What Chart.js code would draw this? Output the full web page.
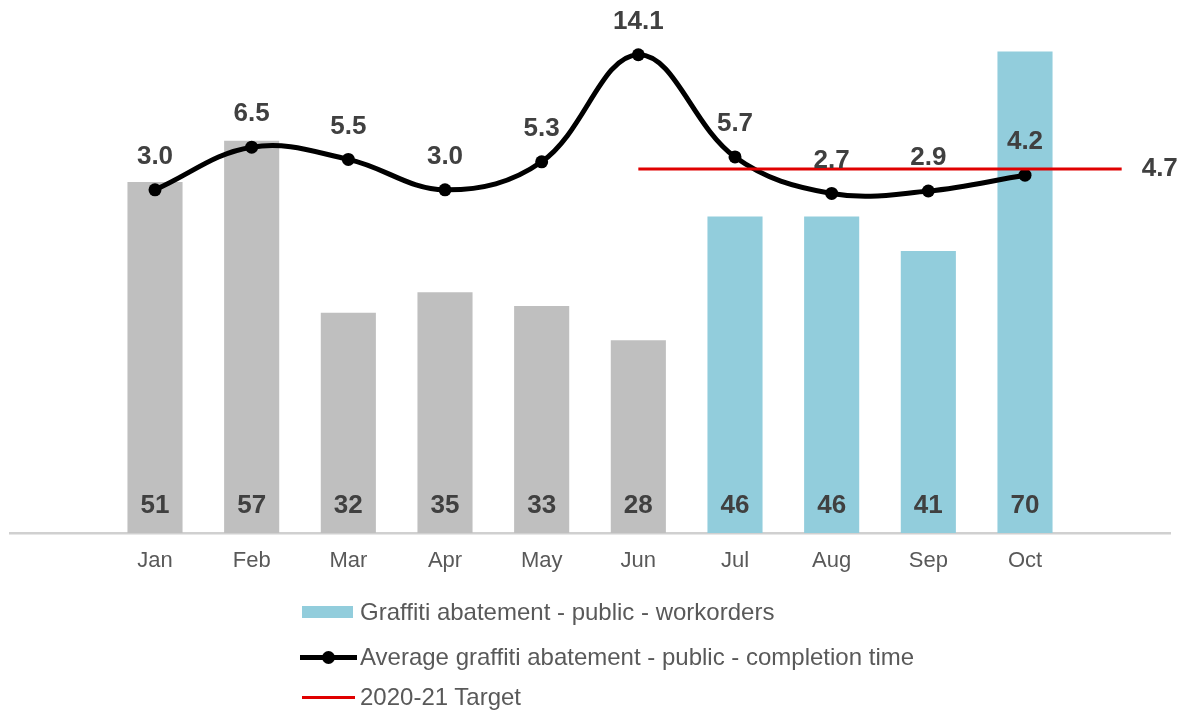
<!DOCTYPE html>
<html>
<head>
<meta charset="utf-8">
<script src="https://cdn.jsdelivr.net/npm/chart.js@4.4.1/dist/chart.umd.min.js"></script>
<style>
  body { margin: 0; background: #fff; font-family: "Liberation Sans", Arial, sans-serif; }
  #wrap { position: relative; width: 1186px; height: 711px; }
  #legend { position: absolute; left: 0; top: 0; }
  .item { position: absolute; left: 300px; height: 30px; width: 760px; color: #595959; font-size: 24px; }
  .item span.txt { position: absolute; left: 60px; top: 50%; transform: translateY(-50%); white-space: nowrap; }
  .sym { position: absolute; top: 50%; }
</style>
</head>
<body>
<div id="wrap">
  <canvas id="graffitiChart" width="1186" height="711"></canvas>
  <div id="legend">
    <div class="item" style="top:597px;">
      <div class="sym" style="left:2px;width:51px;height:12px;margin-top:-6px;background:#92cddc;"></div>
      <span class="txt">Graffiti abatement - public - workorders</span>
    </div>
    <div class="item" style="top:642px;">
      <div class="sym" style="left:0;width:57px;height:5px;margin-top:-2.5px;background:#000;"></div>
      <div class="sym" style="left:22px;width:13px;height:13px;margin-top:-6.5px;border-radius:50%;background:#000;"></div>
      <span class="txt">Average graffiti abatement - public - completion time</span>
    </div>
    <div class="item" style="top:682px;">
      <div class="sym" style="left:2px;width:53px;height:3px;margin-top:-1.5px;background:#e00000;"></div>
      <span class="txt">2020-21 Target</span>
    </div>
  </div>
</div>
<script>
// categories (blank slots at both ends, like the source sheet)
var months      = ['', 'Jan', 'Feb', 'Mar', 'Apr', 'May', 'Jun', 'Jul', 'Aug', 'Sep', 'Oct', ''];
// Graffiti abatement - public - workorders
var workorders  = [null, 51, 57, 32, 35, 33, 28, 46, 46, 41, 70, null];
// Average completion time (days)
var avgDays     = [null, 3.0, 6.5, 5.5, 3.0, 5.3, 14.1, 5.7, 2.7, 2.9, 4.2, null];
// 2020-21 target
var target      = [null, null, null, null, null, null, 4.7, 4.7, 4.7, 4.7, 4.7, 4.7];

var fontFamily = '"Liberation Sans", Arial, sans-serif';

// simple value labels (no datalabels plugin here)
var valueLabels = {
  id: 'valueLabels',
  afterDatasetsDraw: function (chart) {
    var ctx = chart.ctx;
    ctx.save();
    ctx.fillStyle = '#404040';
    ctx.font = 'bold 26px ' + fontFamily;
    ctx.textBaseline = 'middle';
    chart.data.datasets.forEach(function (ds, i) {
      var meta = chart.getDatasetMeta(i);
      meta.data.forEach(function (el, j) {
        var v = ds.data[j];
        if (v === null || v === undefined) return;
        if (ds.type === 'bar') {
          ctx.textAlign = 'center';
          ctx.fillText(String(v), el.x, el.base - 27);
        } else if (ds.label === 'Average graffiti abatement - public - completion time') {
          ctx.textAlign = 'center';
          ctx.fillText(v.toFixed(1), el.x, el.y - 33);
        } else if (j === ds.data.length - 1) {
          ctx.textAlign = 'left';
          ctx.fillText(v.toFixed(1), el.x + 20, el.y);
        }
      });
    });
    ctx.restore();
  }
};

var ctx = document.getElementById('graffitiChart').getContext('2d');
var graffitiChart = new Chart(ctx, {
  data: {
    labels: months,
    datasets: [
      {
        type           : 'line',
        label          : '2020-21 Target',
        data           : target,
        borderColor    : '#e00000',
        borderWidth    : 3,
        pointRadius    : 0,
        yAxisID        : 'y1',
        order          : 0
      },
      {
        type           : 'line',
        label          : 'Average graffiti abatement - public - completion time',
        data           : avgDays,
        borderColor    : '#000',
        backgroundColor: '#000',
        borderWidth    : 5,
        pointRadius    : 6.5,
        pointBorderWidth: 0,
        tension        : 0.38,
        yAxisID        : 'y1',
        order          : 1
      },
      {
        type           : 'bar',
        label          : 'Graffiti abatement - public - workorders',
        data           : workorders,
        backgroundColor: function (c) { return c.dataIndex >= 7 ? '#92cddc' : '#bfbfbf'; },
        categoryPercentage: 1,
        barPercentage  : 0.57,
        yAxisID        : 'y',
        order          : 2
      }
    ]
  },
  options: {
    responsive: false,
    animation : false,
    layout    : { padding: { top: 17, left: 10, right: 16, bottom: 0 } },
    plugins   : { legend: { display: false }, tooltip: { enabled: false } },
    scales: {
      x: {
        grid  : { display: false, drawTicks: false },
        border: { display: true, color: '#d0d0d0', width: 2.5 },
        ticks : { color: '#595959', font: { family: fontFamily, size: 22 }, padding: 15 },
        afterFit: function (scale) { scale.height = 178; }
      },
      y : { display: false, min: 0, max: 75 },
      y1: { display: false, min: -25.2, max: 17.2 }
    }
  },
  plugins: [valueLabels]
});
</script>
</body>
</html>
